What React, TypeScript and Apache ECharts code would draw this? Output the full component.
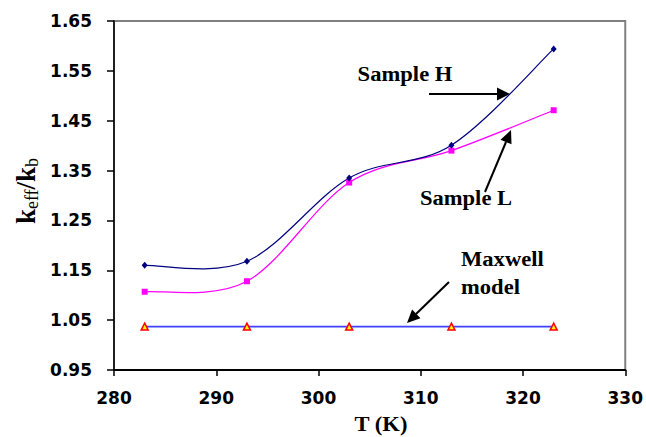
import React, { useEffect, useRef } from "react";
import * as echarts from "echarts";

const temps = [283, 293, 303, 313, 323];
const sampleH = [1.16, 1.168, 1.335, 1.401, 1.594];
const sampleL = [1.107, 1.128, 1.326, 1.39, 1.471];
const maxwell = [1.037, 1.037, 1.037, 1.037, 1.037];
const yTicks = { min: 0.95, max: 1.65, step: 0.1 };
const xTicks = { min: 280, max: 330, step: 10 };

const pairs = (ys: number[]) => temps.map((t, i) => [t, ys[i]]);

const serif = "'Liberation Serif', 'Times New Roman', serif";
const sans = "'DejaVu Sans', Arial, sans-serif";
const SX = 1.13;

// Excel-like smoothed curve (Catmull-Rom style Bezier) drawn through the axes' scales
const smoothCurve = (ys: number[], color: string, width: number) => ({
  type: "custom",
  data: pairs(ys),
  silent: true,
  z: 2,
  renderItem: (params: any, api: any) => {
    const n = ys.length;
    const i = params.dataIndex;
    if (i >= n - 1) return { type: "group", children: [] };
    const P = (j: number) => {
      const k = Math.max(0, Math.min(n - 1, j));
      return api.coord([temps[k], ys[k]]);
    };
    const p0 = P(i - 1), p1 = P(i), p2 = P(i + 1), p3 = P(i + 2);
    const c1 = [p1[0] + (p2[0] - p0[0]) / 6, p1[1] + (p2[1] - p0[1]) / 6];
    const c2 = [p2[0] - (p3[0] - p1[0]) / 6, p2[1] - (p3[1] - p1[1]) / 6];
    return {
      type: "bezierCurve",
      shape: {
        x1: p1[0], y1: p1[1], x2: p2[0], y2: p2[1],
        cpx1: c1[0], cpy1: c1[1], cpx2: c2[0], cpy2: c2[1],
      },
      style: { stroke: color, lineWidth: width, fill: "none" },
    };
  },
});

export default function App() {
  const ref = useRef<HTMLDivElement>(null);
  useEffect(() => {
    const chart = echarts.init(ref.current!, undefined, { renderer: "svg" });
    const txt = (text: string, x: number, y: number, align = "left") => ({
      type: "text",
      x,
      y,
      scaleX: SX,
      style: {
        text,
        font: `bold 20px ${serif}`,
        fill: "#000",
        align,
        verticalAlign: "middle",
      },
    });
    const line = (x1: number, y1: number, x2: number, y2: number) => ({
      type: "line",
      shape: { x1, y1, x2, y2 },
      style: { stroke: "#000", lineWidth: 2 },
    });
    const head = (pts: number[][]) => ({
      type: "polygon",
      shape: { points: pts },
      style: { fill: "#000" },
    });
    chart.setOption({
      animation: false,
      backgroundColor: "#fff",
      grid: {
        left: 114,
        right: 20,
        top: 21,
        bottom: 67,
        show: true,
        borderColor: "#808080",
        borderWidth: 2,
      },
      xAxis: {
        type: "value",
        min: xTicks.min,
        max: xTicks.max,
        interval: xTicks.step,
        axisLine: { lineStyle: { color: "#000", width: 2 } },
        axisTick: { show: true, length: 6, lineStyle: { color: "#000", width: 1.5 } },
        axisLabel: { color: "#000", fontWeight: "bold", fontSize: 17, fontFamily: sans, margin: 19 },
        splitLine: { show: false },
      },
      yAxis: {
        type: "value",
        min: yTicks.min,
        max: yTicks.max,
        interval: yTicks.step,
        axisLine: { show: true, lineStyle: { color: "#000", width: 1.5 } },
        axisTick: { show: true, length: 7, lineStyle: { color: "#000", width: 1.5 } },
        axisLabel: {
          color: "#000",
          fontWeight: "bold",
          fontSize: 17,
          fontFamily: sans,
          margin: 22,
          formatter: (v: number) => v.toFixed(2),
        },
        splitLine: { show: false },
      },
      graphic: [
        {
          type: "text",
          x: 26,
          y: 191,
          rotation: Math.PI / 2,
          style: {
            text: "{m|k}{s|eff}{m|/k}{s|b}",
            align: "center",
            verticalAlign: "middle",
            rich: {
              m: { font: `bold 27px ${serif}`, fill: "#000" },
              s: { font: `18px ${serif}`, fill: "#000", padding: [11, 0, 0, 0] },
            },
          },
        },
        txt("T (K)", 381, 424, "center"),
        txt("Sample H", 405, 74, "center"),
        txt("Sample L", 466, 198, "center"),
        txt("Maxwell", 461, 259),
        txt("model", 461, 287),
        line(429, 94, 499, 94),
        head([[510, 94], [497, 87.5], [497, 100.5]]),
        line(485, 192, 506, 142),
        head([[511, 130], [511.5, 144.3], [500.5, 139.7]]),
        line(449, 282, 416, 314),
        head([[407, 323], [420.5, 318.2], [412.1, 309.6]]),
      ],
      series: [
        smoothCurve(sampleL, "#ff00ff", 1.2),
        smoothCurve(sampleH, "#000080", 1.2),
        {
          type: "scatter",
          data: pairs(sampleL),
          symbol: "rect",
          symbolSize: 6,
          z: 3,
          itemStyle: { color: "#ff00ff", opacity: 1 },
        },
        {
          type: "scatter",
          data: pairs(sampleH),
          symbol: "diamond",
          symbolSize: [6, 7],
          z: 3,
          itemStyle: { color: "#000080", opacity: 1 },
        },
        {
          type: "line",
          data: pairs(maxwell),
          symbol: "triangle",
          symbolSize: 7,
          lineStyle: { color: "#4040ff", width: 1.8 },
          itemStyle: { color: "#ffff00", borderColor: "#ff0000", borderWidth: 1.5 },
        },
      ],
    });
    return () => chart.dispose();
  }, []);
  return (
    <div
      ref={ref}
      style={{ width: 646, height: 437, position: "fixed", left: 0, top: 0 }}
    />
  );
}
